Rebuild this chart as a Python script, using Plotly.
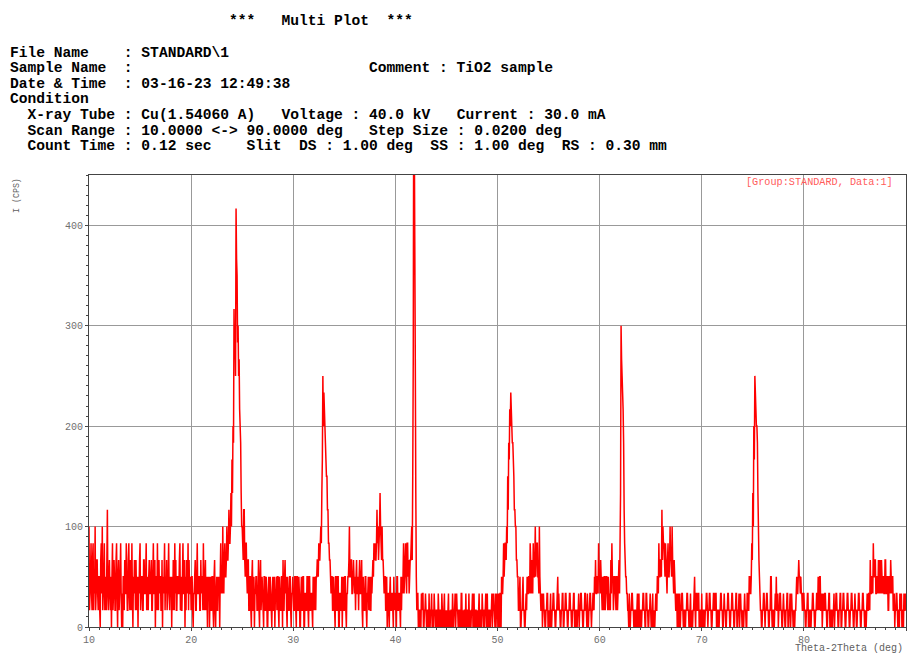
import plotly.graph_objects as go

# ---------------- data ----------------
scan_start = 10.0      # deg
scan_step = 0.05       # deg (one character per step)
cps_per_level = 50.0 / 3.0   # intensity quantum (CPS); each char = base-36 level

# intensity levels, one string per degree (20 readings: x.00, x.05, ... x.95)
levels_10s = ["61235214513261244213", "31045261235132147213", "42130351243114520341",
              "23520203314225311452", "14315203243142130324", "51233114422351321342",
              "23411352240331521423", "31140323513241235213", "23031431524113322451",
              "31135224031432514223"]
levels_20s = ["13310223411352233114", "23315213413203230231", "13310341023113230352",
              "32632453346445755686", "a8cbjgifpmlhifgdcb86", "65477435532441133103",
              "41130223311241034123", "21033113200231132102", "31130223133103211330",
              "41134231032113310223"]
levels_30s = ["21133103311320023113", "30022113310331122103", "21321334435445658afc",
              "edcba997755443233113", "21033113300221130231", "13310223346334422343",
              "23134223134223410321", "13310223123113234354", "54457564568654644323",
              "31130221023112210312"]
levels_40s = ["21033112210313235234", "532553423445649gxung", "83122001100212200112",
              "10011020011201102110", "01102101100210012010", "10012010011021011201",
              "21100110022010011020", "01102010011201200110", "10012001102110011201",
              "20011001120121102012"]
levels_50s = ["10210220322353455465", "97badcedcbba97766443", "31123001123110012132",
              "23325423425334634553", "32632112012110011220", "10012001122110011231",
              "21100112200112211001", "12211001122001100112", "01122110011221102101",
              "12210112213242233253"]
levels_60s = ["32432132133123321321", "21425331233213312342", "58igfedb754332211021",
              "01122110011001201201", "10011221100221100112", "10012010012113325334",
              "43746554354324533464", "43643243211201201201", "12210110011221100120",
              "10011231022112200110"]
levels_70s = ["20011001122101122110", "01122112200110011221", "10012110011221100112",
              "21100112200112012110", "10012110022113322354", "86cafedccb8643211001",
              "12210112211001133101", "10012131120112211001", "21100112200112012110",
              "10011232234332322112"]
levels_80s = ["21100112200110011221", "10011221321331120121", "12211001122001100112",
              "01122110011220011221", "10011221100112211001", "21100112211001122110",
              "10012112214223325334", "42233243243243233224", "42233113324323311201",
              "12210110211201102112"]
level_90 = "1"

x_ticks = [10, 20, 30, 40, 50, 60, 70, 80, 90]
y_ticks = [0, 100, 200, 300, 400]

header_lines = [
    "                         ***   Multi Plot  ***",
    "File Name    : STANDARD\\1",
    "Sample Name  :",
    "Date & Time  : 03-16-23 12:49:38",
    "Condition",
    "  X-ray Tube : Cu(1.54060 A)   Voltage : 40.0 kV   Current : 30.0 mA",
    "  Scan Range : 10.0000 <-> 90.0000 deg   Step Size : 0.0200 deg",
    "  Count Time : 0.12 sec    Slit  DS : 1.00 deg  SS : 1.00 deg  RS : 0.30 mm",
]
header_y_px = [21, 53, 68, 84, 99, 115, 131, 146]
comment_text = "Comment : TiO2 sample"
legend_text = "[Group:STANDARD, Data:1]"
x_title = "Theta-2Theta (deg)"
y_title = "I (CPS)"

# ---------------- decode ----------------
all_levels = "".join(levels_10s + levels_20s + levels_30s + levels_40s +
                     levels_50s + levels_60s + levels_70s + levels_80s) + level_90
cps = [int(c, 36) * cps_per_level for c in all_levels]
two_theta = [round(scan_start + i * scan_step, 3) for i in range(len(cps))]

# ---------------- layout geometry ----------------
W, H = 909, 653
L, R, T, B = 89, 906, 175, 627


def px(xp):
    return (xp - L) / (R - L)


def py(yp):
    return (B - yp) / (B - T)


MONO = "Liberation Mono, Courier New, monospace"

fig = go.Figure()
fig.add_trace(go.Scatter(
    x=two_theta, y=cps, mode="lines",
    line=dict(color="#ff0000", width=1.5, simplify=False),
    hoverinfo="skip", showlegend=False,
))

annotations = []
for txt, yy in zip(header_lines, header_y_px):
    annotations.append(dict(
        text="<b>" + txt.replace(" ", "\u00a0") + "</b>",
        x=px(8), y=py(yy), xref="paper", yref="paper",
        xanchor="left", yanchor="middle", showarrow=False,
        font=dict(family=MONO, size=14.6, color="#000000"),
    ))
annotations.append(dict(
    text="<b>" + comment_text.replace(" ", "\u00a0") + "</b>",
    x=px(367), y=py(68), xref="paper", yref="paper",
    xanchor="left", yanchor="middle", showarrow=False,
    font=dict(family=MONO, size=14.6, color="#000000"),
))
annotations.append(dict(
    text=legend_text.replace(" ", "\u00a0"),
    x=px(895), y=py(182), xref="paper", yref="paper",
    xanchor="right", yanchor="middle", showarrow=False,
    font=dict(family=MONO, size=10.2, color="#ff5a5a"),
))
annotations.append(dict(
    text=x_title.replace(" ", "\u00a0"),
    x=px(905), y=py(648), xref="paper", yref="paper",
    xanchor="right", yanchor="middle", showarrow=False,
    font=dict(family=MONO, size=10, color="#606060"),
))
annotations.append(dict(
    text=y_title.replace(" ", "\u00a0"),
    x=px(16), y=py(196), xref="paper", yref="paper",
    xanchor="center", yanchor="middle", showarrow=False, textangle=-90,
    font=dict(family=MONO, size=8.3, color="#606060"),
))

axis_common = dict(
    showgrid=True, gridcolor="#999999", gridwidth=1,
    showline=True, linecolor="#444444", linewidth=1.2, mirror=True,
    ticks="outside", ticklen=3, tickcolor="#444444", tickwidth=1,
    tickfont=dict(family=MONO, size=10, color="#707070"),
    zeroline=False, fixedrange=True,
)

fig.update_layout(
    width=W, height=H,
    margin=dict(l=L, r=W - R, t=T, b=H - B),
    paper_bgcolor="white", plot_bgcolor="white",
    xaxis=dict(range=[10, 90], tickvals=x_ticks, ticktext=[str(v) for v in x_ticks],
               minor=dict(dtick=1, tick0=10, ticks="outside", ticklen=2,
                          tickcolor="#444444", showgrid=False),
               **axis_common),
    yaxis=dict(range=[0, 450], tickvals=y_ticks, ticktext=[str(v) for v in y_ticks],
               minor=dict(dtick=10, tick0=0, ticks="outside", ticklen=2,
                          tickcolor="#444444", showgrid=False),
               **axis_common),
    annotations=annotations,
)

fig.write_html("out.html")
